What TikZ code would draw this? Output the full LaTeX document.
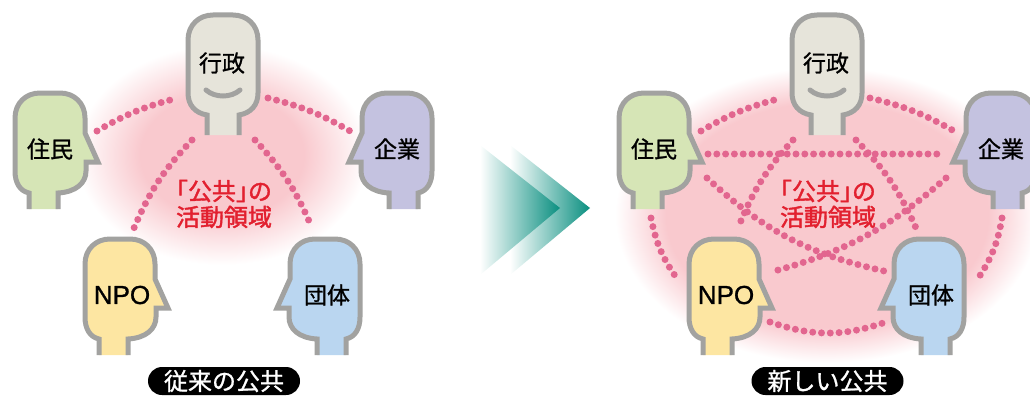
\documentclass[tikz,border=0pt]{standalone}
\usepackage{fontspec}
\setmainfont{Noto Sans CJK JP}[FakeBold=1]
\newfontfamily\npofont{Liberation Sans}[FakeBold=1]
\newfontfamily\areafont{Noto Sans CJK JP}[FakeBold=1.6,RawFeature=+halt]
\newfontfamily\regionfont{Noto Sans CJK JP}[FakeBold=1.6]
\definecolor{headgray}{HTML}{A2A2A0}
\definecolor{gyoseifill}{HTML}{E6E4DA}
\definecolor{juminfill}{HTML}{D6E5B6}
\definecolor{kigyofill}{HTML}{C4C2E0}
\definecolor{npofill}{HTML}{FDE6A2}
\definecolor{dantaifill}{HTML}{BAD6F0}
\definecolor{dotpink}{HTML}{E2668F}
\definecolor{glowpink}{HTML}{F9C9CE}
\definecolor{labelred}{HTML}{E2202F}
\definecolor{arrowteal}{HTML}{0A8F80}
\pgfdeclareradialshading{glowsmall}{\pgfpointorigin}{color(0bp)=(glowpink); color(14bp)=(glowpink); color(25bp)=(white); color(50bp)=(white)}
\pgfdeclareradialshading{glowlarge}{\pgfpointorigin}{color(0bp)=(glowpink); color(19bp)=(glowpink); color(25bp)=(white); color(50bp)=(white)}
\begin{document}
\begin{tikzpicture}[
		x=1pt, y=-1pt,
		dotline/.style={dotpink, line width=7pt, line cap=round, dash pattern=on 0pt off 8.8pt},
		headline/.style={headgray, line width=5pt, line join=miter},
		headlabel/.style={inner sep=0pt, font=\fontsize{23}{23}\selectfont},
		arealabel/.style={inner sep=0pt, text=labelred, font=\fontsize{24}{24}\selectfont\regionfont},
		pill/.style={fill=black, text=white, rounded corners=14pt, inner sep=0pt, minimum width=152pt, minimum height=28pt, font=\fontsize{24}{24}\selectfont},
		sidehead/.pic={
			\filldraw[headline, fill=#1] (-21,60) -- (-21,44) .. controls (-30,42) and (-35,34) .. (-35,22)
				-- (-35,-31) .. controls (-35,-46) and (-24,-56) .. (-10,-56) -- (10,-56)
				.. controls (24,-56) and (35,-46) .. (35,-31) -- (35,-16) -- (48,13) -- (36,13) -- (36,22)
				.. controls (36,34) and (26,43) .. (8,44) -- (8,60);
		},
		fronthead/.pic={
			\filldraw[headline, fill=gyoseifill] (-16,72) -- (-16,52) .. controls (-28,50) and (-35,42) .. (-35,30)
				-- (-35,-23) .. controls (-35,-38) and (-24,-48) .. (-10,-48) -- (10,-48)
				.. controls (24,-48) and (35,-38) .. (35,-23) -- (35,30)
				.. controls (35,42) and (28,50) .. (16,52) -- (16,72);
			\draw[headline, line cap=round] (-17,27) .. controls (-8,35) and (8,35) .. (17,27);
		}
	]
	\useasboundingbox (0,0) rectangle (1030,396);

	% glow behind each group
	\shade[shading=glowsmall] (222,155) ellipse [x radius=146, y radius=110];
	\shade[shading=glowlarge] (827,215) ellipse [x radius=212, y radius=148];

	% heads and labels, same layout in both groups
	\foreach \dx/\p in {0/L,604/R} {
		\pic at (223+\dx,63) {fronthead};
		\pic at (50+\dx,149) {sidehead=juminfill};
		\pic[xscale=-1] at (397+\dx,149) {sidehead=kigyofill};
		\pic at (120+\dx,295) {sidehead=npofill};
		\pic[xscale=-1] at (325+\dx,295) {sidehead=dantaifill};
		\node[headlabel] (gyosei\p) at (222+\dx,63) {行政};
		\node[headlabel] (jumin\p) at (50+\dx,149) {住民};
		\node[headlabel] (kigyo\p) at (397+\dx,149) {企業};
		\node[headlabel, font=\fontsize{26}{26}\selectfont\npofont] (npo\p) at (122+\dx,295) {NPO};
		\node[headlabel] (dantai\p) at (327+\dx,295) {団体};
		\node[arealabel, font=\fontsize{24}{24}\selectfont\areafont] (public\p) at (224+\dx,191) {「公共」の};
		\node[arealabel] (area\p) at (224+\dx,217) {活動領域};
	}

	% left group
	\draw[dotline] ([shift={(47,-18)}]juminL.center) to[bend left=8] ([shift={(-44,35)}]gyoseiL.center);
	\draw[dotline] ([shift={(46,35)}]gyoseiL.center) to[bend left=8] ([shift={(-47,-18)}]kigyoL.center);
	\draw[dotline] ([shift={(-30,77)}]gyoseiL.center) to[bend right=10] ([shift={(12,-67)}]npoL.center);
	\draw[dotline] ([shift={(33,77)}]gyoseiL.center) to[bend left=10] ([shift={(-15,-67)}]dantaiL.center);

	% right group
	\draw[dotline] ([shift={(47,-18)}]juminR.center) to[bend left=8] ([shift={(-44,35)}]gyoseiR.center);
	\draw[dotline] ([shift={(44,35)}]gyoseiR.center) to[bend left=8] ([shift={(-47,-18)}]kigyoR.center);
	\draw[dotline] ([shift={(54,5)}]juminR.center) -- ([shift={(-56,5)}]kigyoR.center);
	\draw[dotline] ([shift={(-33,77)}]gyoseiR.center) to[bend right=10] ([shift={(12,-67)}]npoR.center);
	\draw[dotline] ([shift={(30,77)}]gyoseiR.center) to[bend left=10] ([shift={(-15,-67)}]dantaiR.center);
	\draw[dotline] ([shift={(53,29)}]juminR.center) to[bend right=15] ([shift={(-47,-24)}]dantaiR.center);
	\draw[dotline] ([shift={(-55,29)}]kigyoR.center) to[bend left=13] ([shift={(45,-23)}]npoR.center);
	\draw[dotline] ([shift={(-3,69)}]juminR.center) to[bend right=12] ([shift={(-48,-15)}]npoR.center);
	\draw[dotline] ([shift={(1,69)}]kigyoR.center) to[bend left=12] ([shift={(46,-15)}]dantaiR.center);
	\draw[dotline] ([shift={(44,27)}]npoR.center) to[bend right=19] ([shift={(-45,27)}]dantaiR.center);

	% arrow between the groups
	\shade[left color=white, right color=arrowteal] (510,145) -- (590,208) -- (510,275) -- cycle;
	\shade[left color=white, right color=arrowteal] (480,145) -- (560,208) -- (480,275) -- cycle;

	\node[pill] (oldtitle) at (224,381) {従来の公共};
	\node[pill] (newtitle) at (827.5,381) {新しい公共};
\end{tikzpicture}
\end{document}
